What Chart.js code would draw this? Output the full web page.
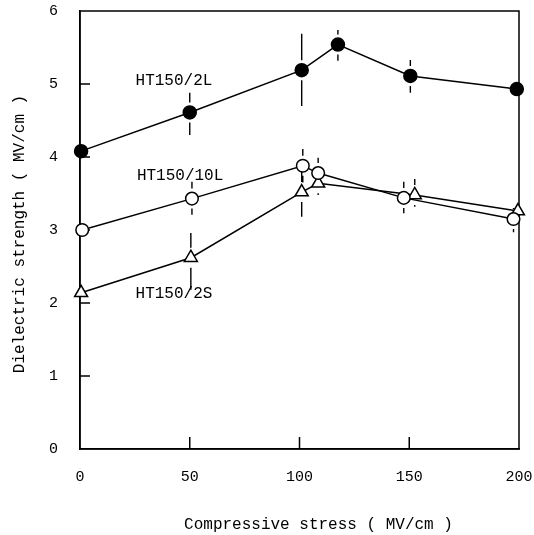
<!DOCTYPE html>
<html>
<head>
<meta charset="utf-8">
<script src="https://cdn.jsdelivr.net/npm/chart.js@4.4.1/dist/chart.umd.min.js"></script>
<style>
  html, body { margin: 0; padding: 0; background: #fff; }
  canvas { display: block; }
</style>
</head>
<body>
<canvas id="strengthChart" width="534" height="535"></canvas>
<script>
// values
const seriesNames = ["HT150/2L", "HT150/10L", "HT150/2S"];

const stress2L = [0.5, 50, 101, 117.5, 150.5, 199];
const strength2L = [4.08, 4.61, 5.19, 5.54, 5.11, 4.93];
const low2L = [null, 4.30, 4.70, 5.32, 4.88, null];
const high2L = [null, 4.88, 5.69, 5.74, 5.33, null];

const stress10L = [1, 51, 101.5, 108.5, 147.5, 197.5];
const strength10L = [3.0, 3.43, 3.88, 3.78, 3.44, 3.15];
const low10L = [null, 3.21, 3.65, 3.6, 3.23, 2.97];
const high10L = [null, 3.66, 4.11, 3.99, 3.66, 3.3];

const stress2S = [0.5, 50.5, 101, 108.5, 152.5, 199.5];
const strength2S = [2.14, 2.62, 3.52, 3.64, 3.48, 3.26];
const low2S = [null, 2.18, 3.18, 3.48, 3.32, null];
const high2S = [null, 2.96, 3.87, 3.8, 3.70, null];

const xTicks = [0, 50, 100, 150, 200];
const yTicks = [0, 1, 2, 3, 4, 5, 6];

const errLow = [low2L, low10L, low2S];
const errHigh = [high2L, high10L, high2S];

const FONT = "'Liberation Mono', 'DejaVu Sans Mono', monospace";

const toPoints = (xs, ys) => xs.map((v, i) => ({ x: v, y: ys[i] }));

// where the series names sit, in data units
const nameSpots = [
  { x: 42.8, y: 5.05 },
  { x: 45.6, y: 3.74 },
  { x: 42.8, y: 2.12 }
];

const framePlugin = {
  id: "framePlugin",
  beforeDatasetsDraw(chart) {
    const { ctx, chartArea: a, scales: { x, y } } = chart;
    ctx.save();
    ctx.strokeStyle = "#000";
    ctx.lineWidth = 1.5;
    ctx.strokeRect(a.left, a.top, a.right - a.left, a.bottom - a.top);

    // ticks point inwards
    ctx.beginPath();
    xTicks.slice(1, -1).forEach(v => {
      const px = x.getPixelForValue(v);
      ctx.moveTo(px, a.bottom);
      ctx.lineTo(px, a.bottom - 12);
    });
    yTicks.slice(1, -1).forEach(v => {
      const py = y.getPixelForValue(v);
      ctx.moveTo(a.left, py);
      ctx.lineTo(a.left + 10, py);
    });
    ctx.stroke();

    // error bars, broken around the marker
    ctx.lineWidth = 1.4;
    ctx.beginPath();
    chart.data.datasets.forEach((ds, i) => {
      ds.data.forEach((p, j) => {
        const lo = errLow[i][j], hi = errHigh[i][j];
        if (lo == null || hi == null) return;
        const px = x.getPixelForValue(p.x);
        const py = y.getPixelForValue(p.y);
        const top = y.getPixelForValue(hi);
        const bot = y.getPixelForValue(lo);
        const gap = 10;
        if (py - gap > top) { ctx.moveTo(px, top); ctx.lineTo(px, py - gap); }
        if (py + gap < bot) { ctx.moveTo(px, py + gap); ctx.lineTo(px, bot); }
      });
    });
    ctx.stroke();
    ctx.restore();
  },
  afterDatasetsDraw(chart) {
    const { ctx, chartArea: a, scales: { x, y } } = chart;
    ctx.save();
    ctx.fillStyle = "#000";
    ctx.font = "16px " + FONT;
    ctx.textAlign = "center";
    ctx.textBaseline = "middle";
    seriesNames.forEach((name, i) => {
      ctx.fillText(name, x.getPixelForValue(nameSpots[i].x), y.getPixelForValue(nameSpots[i].y));
    });

    // axis titles
    ctx.fillText("Compressive stress ( MV/cm )", (a.left + a.right) / 2 + 19, a.bottom + 76);
    ctx.translate(20, (a.top + a.bottom) / 2 + 4);
    ctx.rotate(-Math.PI / 2);
    ctx.fillText("Dielectric strength ( MV/cm )", 0, 0);
    ctx.restore();
  }
};

const lineStyle = {
  borderColor: "#000",
  borderWidth: 1.5,
  pointBorderColor: "#000",
  pointBorderWidth: 1.5,
  pointHoverRadius: 7,
  tension: 0,
  clip: false
};

new Chart(document.getElementById("strengthChart"), {
  type: "scatter",
  data: {
    datasets: [
      {
        ...lineStyle,
        label: seriesNames[0],
        data: toPoints(stress2L, strength2L),
        showLine: true,
        pointStyle: "circle",
        pointRadius: 6.5,
        pointBackgroundColor: "#000"
      },
      {
        ...lineStyle,
        label: seriesNames[1],
        data: toPoints(stress10L, strength10L),
        showLine: true,
        pointStyle: "circle",
        pointRadius: 6.3,
        pointBackgroundColor: "#fff"
      },
      {
        ...lineStyle,
        label: seriesNames[2],
        data: toPoints(stress2S, strength2S),
        showLine: true,
        pointStyle: "triangle",
        pointRadius: 7.5,
        pointBackgroundColor: "#fff"
      }
    ]
  },
  options: {
    responsive: false,
    animation: false,
    layout: { padding: { top: 11, right: 15, left: 0, bottom: 0 } },
    plugins: {
      legend: { display: false },
      tooltip: { enabled: false }
    },
    scales: {
      x: {
        type: "linear",
        min: 0,
        max: 200,
        afterBuildTicks: s => { s.ticks = xTicks.map(v => ({ value: v })); },
        afterFit: s => {
          s.height = 86;
          s.paddingLeft = 0;
          s.paddingRight = 0;
        },
        grid: { display: false, drawTicks: false },
        border: { display: true, color: "#000", width: 1.5 },
        ticks: { color: "#000", padding: 19, maxRotation: 0, font: { family: FONT, size: 15 } }
      },
      y: {
        type: "linear",
        min: 0,
        max: 6,
        afterBuildTicks: s => { s.ticks = yTicks.map(v => ({ value: v })); },
        afterFit: s => {
          s.width = 80;
          s.paddingTop = 0;
          s.paddingBottom = 0;
        },
        grid: { display: false, drawTicks: false },
        border: { display: true, color: "#000", width: 1.5 },
        ticks: { color: "#000", padding: 22, font: { family: FONT, size: 15 } }
      }
    }
  },
  plugins: [framePlugin]
});
</script>
</body>
</html>
